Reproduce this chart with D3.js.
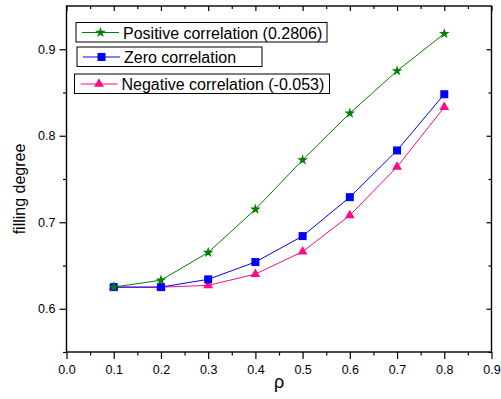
<!DOCTYPE html>
<html>
<head>
<meta charset="utf-8">
<script src="https://cdn.jsdelivr.net/npm/d3@7"></script>
<style>
  body { margin: 0; background: white; }
  text { font-family: Arial, "Liberation Sans", sans-serif; }
</style>
</head>
<body>
<script>
// chart values
const rho = [0.1, 0.2, 0.3, 0.4, 0.5, 0.6, 0.7, 0.8];
const positive = [0.625, 0.633, 0.665, 0.715, 0.772, 0.826, 0.875, 0.918];
const zero = [0.625, 0.625, 0.634, 0.654, 0.684, 0.729, 0.783, 0.848];
const negative = [0.625, 0.625, 0.627, 0.640, 0.666, 0.708, 0.764, 0.833];
const seriesNames = ["Positive correlation (0.2806)", "Zero correlation", "Negative correlation (-0.053)"];
const xTicks = [0.0, 0.1, 0.2, 0.3, 0.4, 0.5, 0.6, 0.7, 0.8, 0.9];
const yTicks = [0.6, 0.7, 0.8, 0.9];

const width = 501, height = 399;
const margin = {top: 6, right: 9.5, bottom: 47, left: 66.5};

const svg = d3.select("body").append("svg")
  .attr("width", width)
  .attr("height", height);

const x = d3.scaleLinear().domain([0, 0.9]).range([margin.left, width - margin.right]);
const y = d3.scaleLinear().domain([0.55, 0.95]).range([height - margin.bottom, margin.top]);

const series = [
  {name: seriesNames[2], values: negative, color: "#ff0a80", shape: d3.symbolTriangle, size: 42},
  {name: seriesNames[1], values: zero, color: "#0000ff", shape: d3.symbolSquare, size: 64},
  {name: seriesNames[0], values: positive, color: "#008000", shape: d3.symbolStar, size: 36}
];

// axes: bottom and left labelled, top and right plain with inward ticks
const xMinor = d3.range(0.05, 0.9, 0.1);
const yMinor = [0.55, 0.65, 0.75, 0.85];

const axisG = svg.append("g");
axisG.append("g")
  .attr("transform", `translate(0,${y.range()[0]})`)
  .call(d3.axisBottom(x).tickValues(xTicks).tickFormat(d3.format(".1f")).tickSize(7).tickPadding(6))
  .call(g => g.selectAll(".tick text").attr("font-size", 12.5).attr("fill", "#000"));
axisG.append("g")
  .attr("transform", `translate(0,${y.range()[0]})`)
  .call(d3.axisBottom(x).tickValues(xMinor).tickFormat("").tickSize(3.5));
axisG.append("g")
  .attr("transform", `translate(${x.range()[0]},0)`)
  .call(d3.axisLeft(y).tickValues(yTicks).tickFormat(d3.format(".1f")).tickSize(7).tickPadding(4))
  .call(g => g.selectAll(".tick text").attr("font-size", 12.5).attr("fill", "#000"));
axisG.append("g")
  .attr("transform", `translate(${x.range()[0]},0)`)
  .call(d3.axisLeft(y).tickValues(yMinor).tickFormat("").tickSize(3.5));
axisG.append("g")
  .attr("transform", `translate(0,${y.range()[1]})`)
  .call(d3.axisBottom(x).tickValues(xTicks).tickFormat("").tickSize(5));
axisG.append("g")
  .attr("transform", `translate(0,${y.range()[1]})`)
  .call(d3.axisBottom(x).tickValues(xMinor).tickFormat("").tickSize(3));
axisG.append("g")
  .attr("transform", `translate(${x.range()[1]},0)`)
  .call(d3.axisLeft(y).tickValues(yTicks).tickFormat("").tickSize(5));
axisG.append("g")
  .attr("transform", `translate(${x.range()[1]},0)`)
  .call(d3.axisLeft(y).tickValues(yMinor).tickFormat("").tickSize(3));
axisG.selectAll(".tick line").attr("stroke", "#000").attr("stroke-width", 1.2);
// domains carry outer ticks, so use a plain frame instead
axisG.selectAll(".domain").remove();
svg.append("rect")
  .attr("x", x.range()[0]).attr("y", y.range()[1])
  .attr("width", x.range()[1] - x.range()[0])
  .attr("height", y.range()[0] - y.range()[1])
  .attr("fill", "none").attr("stroke", "#000").attr("stroke-width", 1.4);

// axis titles
svg.append("text")
  .attr("transform", "translate(25,189) rotate(-90)")
  .attr("text-anchor", "middle")
  .attr("font-size", 16)
  .text("filling degree");
svg.append("text")
  .attr("x", (x.range()[0] + x.range()[1]) / 2)
  .attr("y", 388)
  .attr("text-anchor", "middle")
  .attr("font-size", 18)
  .text("ρ");

// lines and markers
const line = d3.line().x((d, i) => x(rho[i])).y(d => y(d));
series.forEach(s => {
  svg.append("path")
    .datum(s.values)
    .attr("fill", "none")
    .attr("stroke", s.color)
    .attr("stroke-width", 1)
    .attr("d", line);
  svg.append("g").selectAll("path")
    .data(s.values)
    .join("path")
      .attr("transform", (d, i) => `translate(${x(rho[i])},${y(d)})`)
      .attr("d", d3.symbol(s.shape, s.size))
      .attr("fill", s.color);
});

// legend: three separate boxes
const legendRows = [
  {s: series[2], x0: 76, y0: 22.5, w: 251},
  {s: series[1], x0: 77, y0: 47, w: 185},
  {s: series[0], x0: 74.5, y0: 74, w: 255}
];
legendRows.forEach(r => {
  const g = svg.append("g");
  g.append("rect")
    .attr("x", r.x0).attr("y", r.y0)
    .attr("width", r.w).attr("height", 19.5)
    .attr("fill", "white").attr("stroke", "#000").attr("stroke-width", 1);
  const cy = r.y0 + 10;
  g.append("line")
    .attr("x1", r.x0 + 6).attr("x2", r.x0 + 43)
    .attr("y1", cy).attr("y2", cy)
    .attr("stroke", r.s.color).attr("stroke-width", 1);
  g.append("path")
    .attr("transform", `translate(${r.x0 + 24.5},${cy})`)
    .attr("d", d3.symbol(r.s.shape, r.s.size))
    .attr("fill", r.s.color);
  g.append("text")
    .attr("x", r.x0 + 47)
    .attr("y", cy + 6)
    .attr("font-size", 16)
    .text(r.s.name);
});
</script>
</body>
</html>
